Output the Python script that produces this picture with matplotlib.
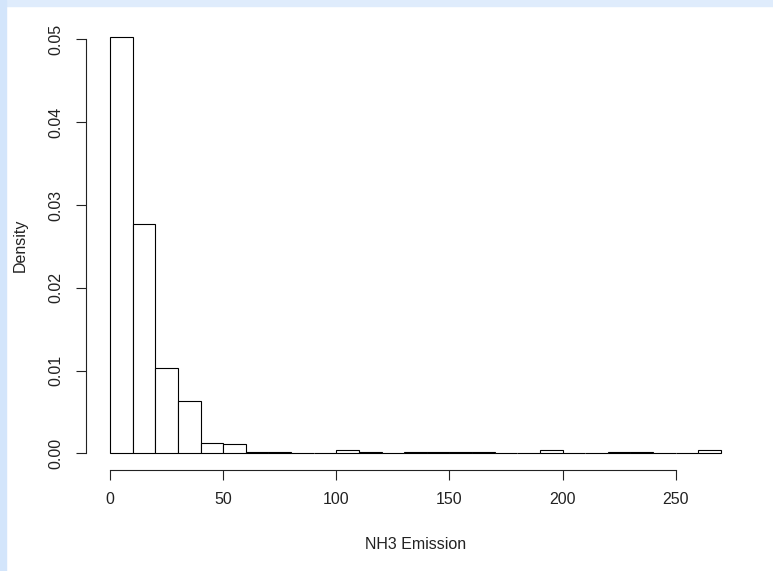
import numpy as np
import matplotlib.pyplot as plt
from matplotlib.patches import Rectangle

plt.rcParams['font.family'] = ['Liberation Sans', 'DejaVu Sans']

# histogram of NH3 emission, bins of width 10 from 0 to 270
bin_edges = list(range(0, 280, 10))
density = [0.0503, 0.02766, 0.0103, 0.00632, 0.00128, 0.00116,
           0.00012, 0.00012, 0.0, 0.0, 0.00036, 0.00012,
           0.0, 0.00012, 0.00012, 0.00012, 0.00012, 0.0,
           0.0, 0.00036, 0.0, 0.0, 0.00012, 0.00012,
           0.0, 0.0, 0.00036]
x_ticks = [0, 50, 100, 150, 200, 250]
y_ticks = [0.00, 0.01, 0.02, 0.03, 0.04, 0.05]

W, H = 773, 571
fig = plt.figure(figsize=(W / 100, H / 100), dpi=100)
fig.patch.set_facecolor('white')

# light blue frame on top and left
fig.patches.append(Rectangle((0, 1 - 6 / H), 1, 6 / H, transform=fig.transFigure,
                             color='#dfecfc', zorder=0))
fig.patches.append(Rectangle((0, 0), 6 / W, 1, transform=fig.transFigure,
                             color='#d3e5fb', zorder=0))

# plot region in pixels (R style, 4% padding)
l, r, t, b = 85.6, 745.4, 20.2, 470.0
ax = fig.add_axes([l / W, 1 - b / H, (r - l) / W, (b - t) / H])

widths = np.diff(bin_edges)
ax.bar(bin_edges[:-1], density, width=widths, align='edge',
       facecolor='white', edgecolor='black', linewidth=0.8)

xmax = bin_edges[-1]
ax.set_xlim(-0.04 * xmax, xmax * 1.04)
ymax = max(density)
ax.set_ylim(-0.04 * ymax, ymax * 1.04)

for s in ['top', 'right']:
    ax.spines[s].set_visible(False)
ax.spines['left'].set_bounds(0, 0.05)
ax.spines['bottom'].set_bounds(0, 250)
for s in ['left', 'bottom']:
    ax.spines[s].set_linewidth(0.8)
    ax.spines[s].set_color('#222222')

ax.set_xticks(x_ticks)
ax.set_xticklabels([str(v) for v in x_ticks])
ax.set_yticks(y_ticks)
ax.set_yticklabels(['%.2f' % v for v in y_ticks], rotation=90, va='center')
ax.tick_params(axis='both', length=7.2, width=0.8, color='#222222',
               labelsize=11.5, labelcolor='#222222')
ax.tick_params(axis='x', pad=8.5)
ax.tick_params(axis='y', pad=8.5)

ax.set_xlabel('NH3 Emission', fontsize=11.5, color='#222222', labelpad=22)
ax.set_ylabel('Density', fontsize=11.5, color='#222222', labelpad=15)

fig.savefig('out.png', dpi=100)
